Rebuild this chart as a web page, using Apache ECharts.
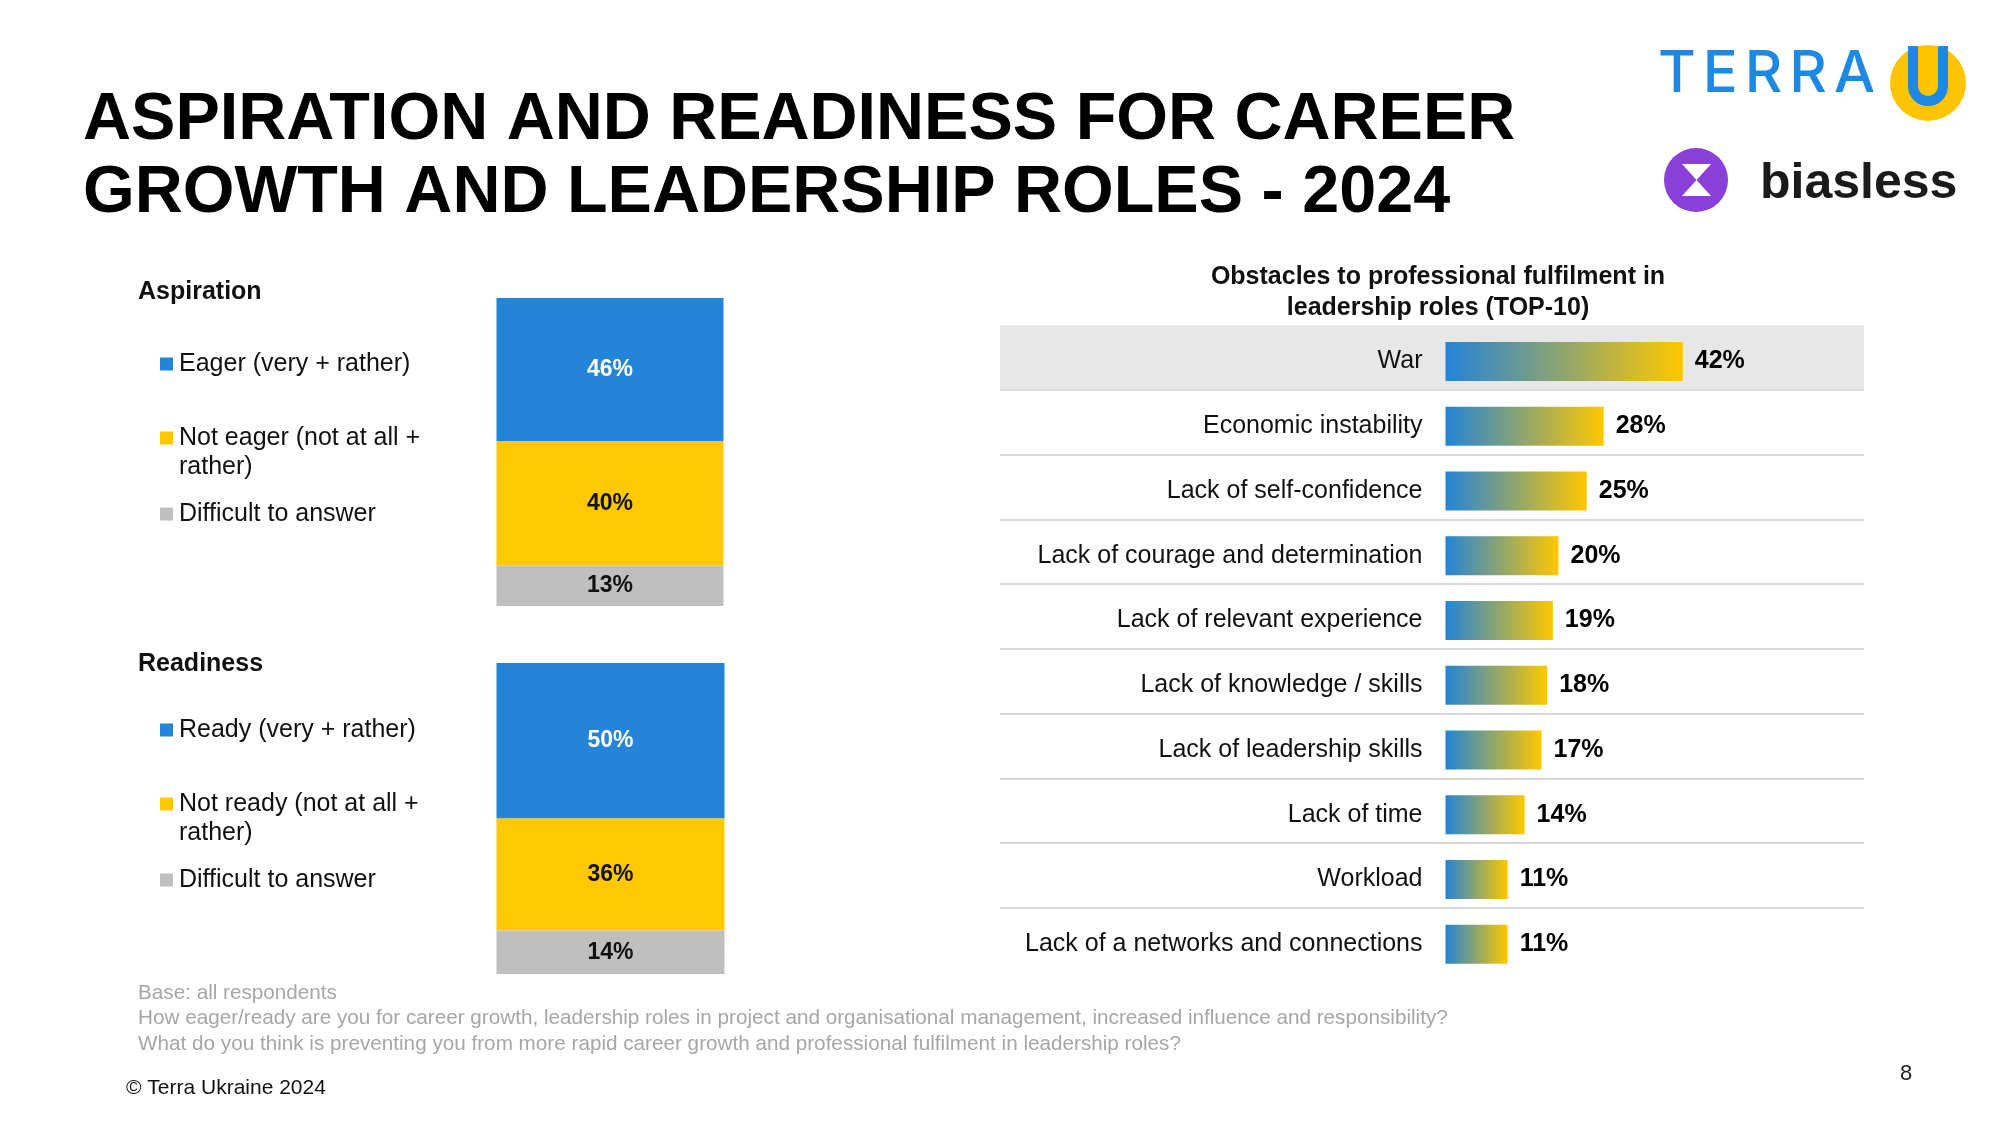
<!DOCTYPE html>
<html>
<head>
<meta charset="utf-8">
<script src="https://cdn.jsdelivr.net/npm/echarts@6/dist/echarts.min.js"></script>
<style>
    html, body { margin: 0; padding: 0; background: #fff; }
    #chart { width: 2000px; height: 1125px; }
</style>
</head>
<body>
<div id="chart"></div>
<script>
// data
const aspirationNames = ['Eager (very + rather)', 'Not eager (not at all +\nrather)', 'Difficult to answer'];
const aspirationValues = [46, 40, 13];
const readinessNames = ['Ready (very + rather)', 'Not ready (not at all +\nrather)', 'Difficult to answer'];
const readinessValues = [50, 36, 14];
const obstacleNames = [
    'War',
    'Economic instability',
    'Lack of self-confidence',
    'Lack of courage and determination',
    'Lack of relevant experience',
    'Lack of knowledge / skills',
    'Lack of leadership skills',
    'Lack of time',
    'Workload',
    'Lack of a networks and connections'
];
const obstacleValues = [42, 28, 25, 20, 19, 18, 17, 14, 11, 11];
const footnotes = [
    'Base: all respondents',
    'How eager/ready are you for career growth, leadership roles in project and organisational management, increased influence and responsibility?',
    'What do you think is preventing you from more rapid career growth and professional fulfilment in leadership roles?'
];

const FONT = '"Liberation Sans", Arial, Helvetica, sans-serif';
const stackColors = ['#2384d8', '#ffc800', '#bfbfbf'];
const stackLabelColors = ['#ffffff', '#111111', '#111111'];

let chart = echarts.init(document.getElementById('chart'));

function stackSeries(names, values, idx) {
    return names.map((n, i) => ({
        type: 'bar',
        name: n.replace('\n', ' '),
        stack: 'block' + idx,
        xAxisIndex: idx,
        yAxisIndex: idx,
        barWidth: '100%',
        data: [values[i]],
        itemStyle: { color: stackColors[i] },
        label: {
            show: true,
            position: 'inside',
            formatter: '{c}%',
            color: stackLabelColors[i],
            fontFamily: FONT,
            fontWeight: 'bold',
            fontSize: 23
        }
    }));
}

// block heading + hand made legend (icon sits on the first text line)
function blockGraphics(heading, names, legendTop, headingY) {
    let els = [{
        type: 'text',
        x: 138, y: headingY,
        style: { text: heading, font: 'bold 25px ' + FONT, fill: '#111', textVerticalAlign: 'middle' }
    }];
    let offsets = [65, 139, 215];
    names.forEach((n, i) => {
        let y = legendTop + offsets[i];
        els.push({
            type: 'rect',
            shape: { x: 160, y: y - 6.5, width: 13, height: 13 },
            style: { fill: stackColors[i] }
        });
        els.push({
            type: 'text',
            x: 179, y: y - 14.5,
            style: { text: n, font: '25px ' + FONT, fill: '#111', lineHeight: 29, textVerticalAlign: 'top' }
        });
    });
    return els;
}

let graphics = [];
graphics.push({
    type: 'text',
    x: 83, y: 84,
    style: {
        text: 'ASPIRATION AND READINESS FOR CAREER\nGROWTH AND LEADERSHIP ROLES - 2024',
        font: 'bold 66.5px ' + FONT, fill: '#000', lineHeight: 73, textVerticalAlign: 'top'
    }
});
graphics = graphics.concat(blockGraphics('Aspiration', aspirationNames, 299, 292));
graphics = graphics.concat(blockGraphics('Readiness', readinessNames, 665, 664));
graphics.push({
    type: 'text',
    x: 1438, y: 293,
    style: {
        text: 'Obstacles to professional fulfilment in\nleadership roles (TOP-10)',
        font: 'bold 25px ' + FONT, fill: '#111', lineHeight: 31,
        textAlign: 'center', textVerticalAlign: 'middle'
    }
});
footnotes.forEach((t, i) => {
    graphics.push({
        type: 'text',
        x: 138, y: 993 + i * 25.5,
        style: { text: t, font: '20.7px ' + FONT, fill: '#a6a6a6', textVerticalAlign: 'middle' }
    });
});
graphics.push({
    type: 'text', x: 126, y: 1088,
    style: { text: '\u00a9 Terra Ukraine 2024', font: '21px ' + FONT, fill: '#111', textVerticalAlign: 'middle' }
});
graphics.push({
    type: 'text', x: 1900, y: 1074,
    style: { text: '8', font: '22px ' + FONT, fill: '#222', textVerticalAlign: 'middle' }
});

// logos: spread the TERRA letters evenly over the logo width
let measure = document.createElement('canvas').getContext('2d');
let terraFont = '500 58px Inter, ' + FONT;
measure.font = terraFont;
let terraLetters = 'TERRA'.split('');
let terraWidths = terraLetters.map(ch => measure.measureText(ch).width);
let terraGap = (217 - terraWidths.reduce((a, b) => a + b, 0)) / (terraLetters.length - 1);
let terraX = 1658;
terraLetters.forEach((ch, i) => {
    graphics.push({
        type: 'text', x: terraX, y: 104,
        style: { text: ch, font: terraFont, fill: '#1e88e5', textVerticalAlign: 'bottom' }
    });
    terraX += terraWidths[i] + terraGap;
});
graphics.push({ type: 'circle', shape: { cx: 1928, cy: 83, r: 38 }, style: { fill: '#ffc400' } });
graphics.push({
    type: 'polyline',
    shape: { points: [[1913, 46], [1913, 86]] },
    style: { stroke: '#1e88e5', lineWidth: 10 }
});
graphics.push({
    type: 'polyline',
    shape: { points: [[1943, 46], [1943, 86]] },
    style: { stroke: '#1e88e5', lineWidth: 10 }
});
graphics.push({
    type: 'arc',
    shape: { cx: 1928, cy: 86, r: 15, startAngle: 0, endAngle: Math.PI, clockwise: true },
    style: { fill: 'none', stroke: '#1e88e5', lineWidth: 10 }
});
graphics.push({ type: 'circle', shape: { cx: 1696, cy: 180, r: 32 }, style: { fill: '#8b3fd9' } });
graphics.push({
    type: 'polygon',
    shape: { points: [[1682, 164], [1711, 164], [1696.5, 180]] },
    style: { fill: '#fff' }
});
graphics.push({
    type: 'polygon',
    shape: { points: [[1696.5, 180], [1682, 196], [1711, 196]] },
    style: { fill: '#fff' }
});
graphics.push({
    type: 'text', x: 1760, y: 184,
    style: { text: 'biasless', font: 'bold 50px ' + FONT, fill: '#1a1a1a', textVerticalAlign: 'middle' }
});

let bandColors = obstacleNames.map((n, i) => i === 0 ? '#e8e7e8' : 'rgba(0,0,0,0)');
let lineColors = ['rgba(0,0,0,0)'].concat(obstacleNames.slice(1).map(() => '#d9d9d9'), ['rgba(0,0,0,0)']);

let conf = {
    animation: false,
    backgroundColor: '#fff',
    grid: [
        { left: 496.5, top: 298, width: 227, height: 311 },
        { left: 496.5, top: 663, width: 228, height: 311 },
        { left: 1000, top: 325, width: 864, height: 647.5 },
        { left: 1445.5, top: 329, width: 395.5, height: 647.5 }
    ],
    xAxis: [
        { gridIndex: 0, type: 'category', data: ['Aspiration'], show: false },
        { gridIndex: 1, type: 'category', data: ['Readiness'], show: false },
        { gridIndex: 2, type: 'value', min: 0, max: 1, show: false },
        { gridIndex: 3, type: 'value', min: 0, max: 70, show: false }
    ],
    yAxis: [
        { gridIndex: 0, type: 'value', min: 0, max: 100, inverse: true, show: false },
        { gridIndex: 1, type: 'value', min: 0, max: 100, inverse: true, show: false },
        {
            gridIndex: 2, type: 'category', data: obstacleNames, inverse: true,
            axisLine: { show: false }, axisTick: { show: false }, axisLabel: { show: false },
            splitLine: { show: true, interval: 0, lineStyle: { color: lineColors, width: 2 } },
            splitArea: { show: true, interval: 0, areaStyle: { color: bandColors } }
        },
        {
            gridIndex: 3, type: 'category', data: obstacleNames, inverse: true,
            axisLine: { show: false }, axisTick: { show: false },
            axisLabel: { margin: 23, fontSize: 25, color: '#111', fontFamily: FONT }
        }
    ],
    series: stackSeries(aspirationNames, aspirationValues, 0)
        .concat(stackSeries(readinessNames, readinessValues, 1))
        .concat([{
            type: 'bar',
            name: 'Obstacles',
            xAxisIndex: 3,
            yAxisIndex: 3,
            barWidth: 39,
            data: obstacleValues,
            itemStyle: {
                color: new echarts.graphic.LinearGradient(0, 0, 1, 0, [
                    { offset: 0, color: '#2384d8' },
                    { offset: 1, color: '#ffc800' }
                ])
            },
            label: {
                show: true,
                position: 'right',
                distance: 12,
                formatter: '{c}%',
                color: '#000',
                fontFamily: FONT,
                fontWeight: 'bold',
                fontSize: 25
            }
        }]),
    graphic: graphics
};

chart.setOption(conf);
</script>
</body>
</html>
